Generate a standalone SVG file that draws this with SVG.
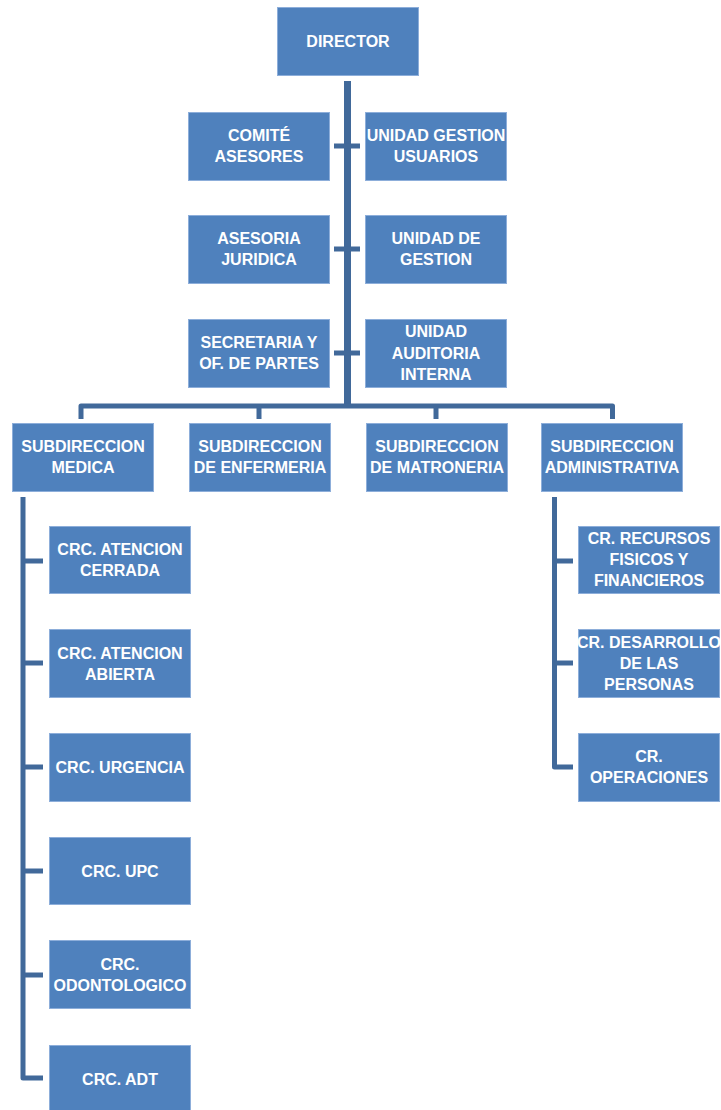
<svg xmlns="http://www.w3.org/2000/svg" width="721" height="1110" viewBox="0 0 721 1110">
<style>
.box{fill:#4F81BD;stroke:#8DAEDA;stroke-width:1}
.t{fill:#FFFFFF;font-family:"Liberation Sans",Arial,sans-serif;font-weight:bold;font-size:16px;text-anchor:middle}
.c{fill:none;stroke:#41699A;stroke-width:5;stroke-linejoin:round}
.trunk{fill:none;stroke:#41699A;stroke-width:7}
</style>
<rect width="721" height="1110" fill="#FFFFFF"/>
<g id="connectors">
<line class="trunk" x1="347.5" y1="81" x2="347.5" y2="406"/>
<line class="c" x1="334" y1="146" x2="360" y2="146"/>
<line class="c" x1="334" y1="249" x2="360" y2="249"/>
<line class="c" x1="334" y1="353" x2="360" y2="353"/>
<path class="c" d="M81,419 V406 H612.5 V419"/>
<line class="c" x1="259" y1="406" x2="259" y2="419"/>
<line class="c" x1="436" y1="406" x2="436" y2="419"/>
<path class="c" d="M23,497 V1078 H43"/>
<line class="c" x1="23" y1="561" x2="43" y2="561"/>
<line class="c" x1="23" y1="663" x2="43" y2="663"/>
<line class="c" x1="23" y1="767" x2="43" y2="767"/>
<line class="c" x1="23" y1="871" x2="43" y2="871"/>
<line class="c" x1="23" y1="975" x2="43" y2="975"/>
<path class="c" d="M554.5,497 V767 H573"/>
<line class="c" x1="554.5" y1="561" x2="573" y2="561"/>
<line class="c" x1="554.5" y1="663" x2="573" y2="663"/>
</g>
<g id="director"><rect class="box" x="277.5" y="7.5" width="141" height="68"/><text class="t" x="348" y="47">DIRECTOR</text></g>
<g id="comite"><rect class="box" x="188.5" y="112.5" width="141" height="68"/><text class="t" x="259" y="141">COMITÉ</text><text class="t" x="259" y="162">ASESORES</text></g>
<g id="unidad-gestion-usuarios"><rect class="box" x="365.5" y="112.5" width="141" height="68"/><text class="t" x="436" y="141">UNIDAD GESTION</text><text class="t" x="436" y="162">USUARIOS</text></g>
<g id="asesoria"><rect class="box" x="188.5" y="215.5" width="141" height="68"/><text class="t" x="259" y="244">ASESORIA</text><text class="t" x="259" y="265">JURIDICA</text></g>
<g id="unidad-gestion"><rect class="box" x="365.5" y="215.5" width="141" height="68"/><text class="t" x="436" y="244">UNIDAD DE</text><text class="t" x="436" y="265">GESTION</text></g>
<g id="secretaria"><rect class="box" x="188.5" y="319.5" width="141" height="68"/><text class="t" x="259" y="348">SECRETARIA Y</text><text class="t" x="259" y="369">OF. DE PARTES</text></g>
<g id="auditoria"><rect class="box" x="365.5" y="319.5" width="141" height="68"/><text class="t" x="436" y="337">UNIDAD</text><text class="t" x="436" y="358.5">AUDITORIA</text><text class="t" x="436" y="380">INTERNA</text></g>
<g id="sub-medica"><rect class="box" x="12.5" y="423.5" width="141" height="68"/><text class="t" x="83" y="452">SUBDIRECCION</text><text class="t" x="83" y="473">MEDICA</text></g>
<g id="sub-enfermeria"><rect class="box" x="189.5" y="423.5" width="141" height="68"/><text class="t" x="260" y="452">SUBDIRECCION</text><text class="t" x="260" y="473">DE ENFERMERIA</text></g>
<g id="sub-matroneria"><rect class="box" x="366.5" y="423.5" width="141" height="68"/><text class="t" x="437" y="452">SUBDIRECCION</text><text class="t" x="437" y="473">DE MATRONERIA</text></g>
<g id="sub-administrativa"><rect class="box" x="541.5" y="423.5" width="141" height="68"/><text class="t" x="612" y="452">SUBDIRECCION</text><text class="t" x="612" y="473">ADMINISTRATIVA</text></g>
<g id="crc-cerrada"><rect class="box" x="49.5" y="526.5" width="141" height="67"/><text class="t" x="120" y="555">CRC. ATENCION</text><text class="t" x="120" y="576">CERRADA</text></g>
<g id="crc-abierta"><rect class="box" x="49.5" y="629.5" width="141" height="68"/><text class="t" x="120" y="659">CRC. ATENCION</text><text class="t" x="120" y="680">ABIERTA</text></g>
<g id="crc-urgencia"><rect class="box" x="49.5" y="733.5" width="141" height="68"/><text class="t" x="120" y="772.5">CRC. URGENCIA</text></g>
<g id="crc-upc"><rect class="box" x="49.5" y="837.5" width="141" height="67"/><text class="t" x="120" y="876.5">CRC. UPC</text></g>
<g id="crc-odontologico"><rect class="box" x="49.5" y="940.5" width="141" height="68"/><text class="t" x="120" y="970">CRC.</text><text class="t" x="120" y="991">ODONTOLOGICO</text></g>
<g id="crc-adt"><rect class="box" x="49.5" y="1045.5" width="141" height="68"/><text class="t" x="120" y="1084.5">CRC. ADT</text></g>
<g id="cr-recursos"><rect class="box" x="578.5" y="526.5" width="141" height="67"/><text class="t" x="649" y="544">CR. RECURSOS</text><text class="t" x="649" y="565">FISICOS Y</text><text class="t" x="649" y="586">FINANCIEROS</text></g>
<g id="cr-desarrollo"><rect class="box" x="578.5" y="629.5" width="141" height="68"/><text class="t" x="649" y="647.5">CR. DESARROLLO</text><text class="t" x="649" y="669">DE LAS</text><text class="t" x="649" y="690">PERSONAS</text></g>
<g id="cr-operaciones"><rect class="box" x="578.5" y="733.5" width="141" height="68"/><text class="t" x="649" y="762">CR.</text><text class="t" x="649" y="783">OPERACIONES</text></g>
</svg>
